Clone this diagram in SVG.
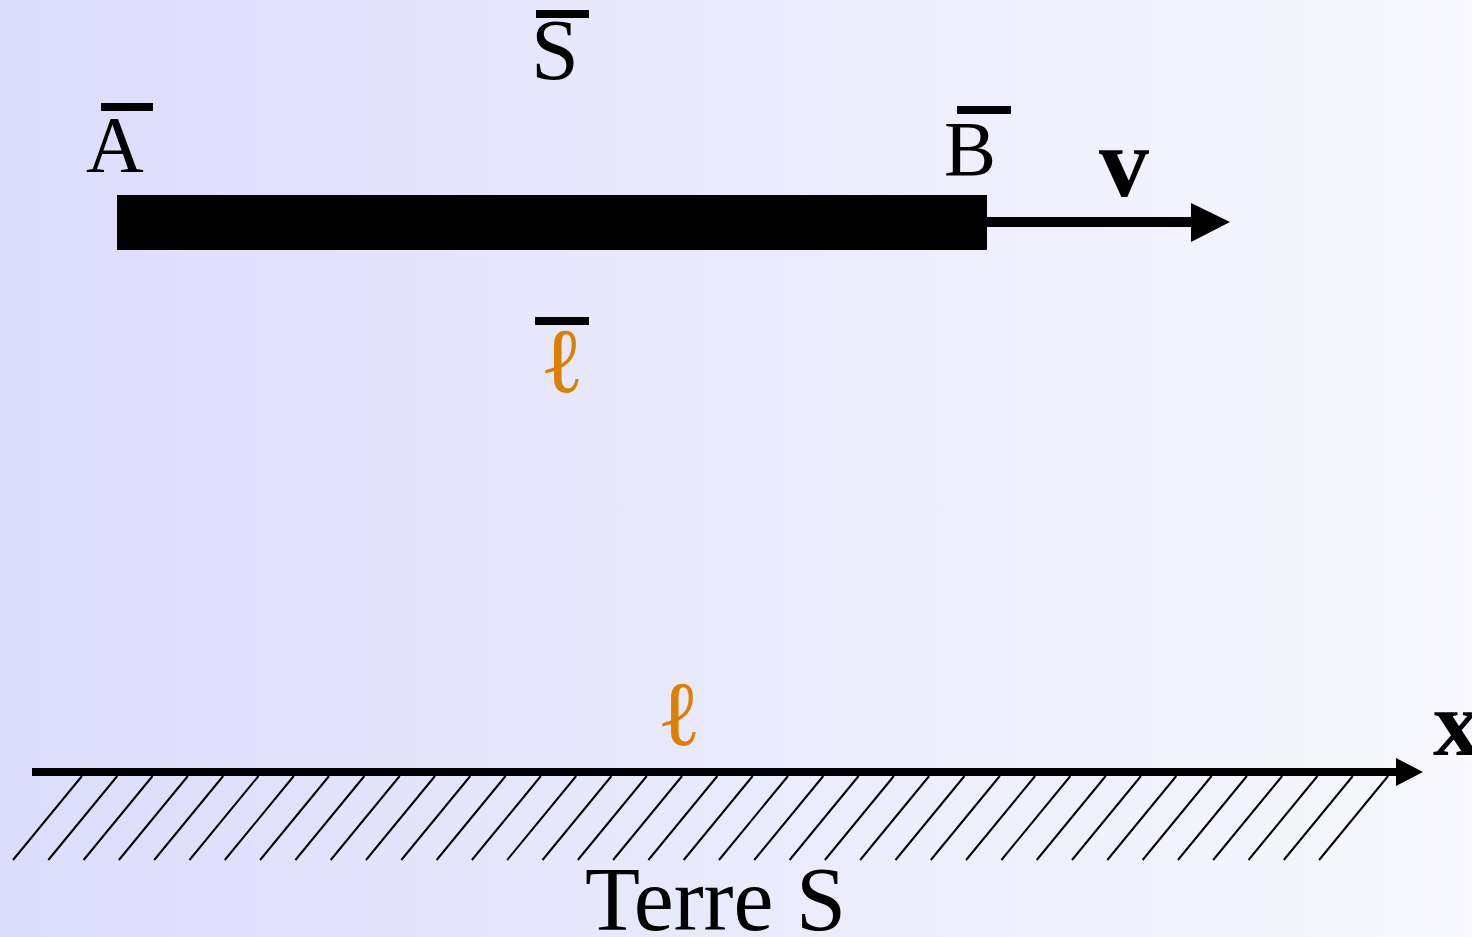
<svg xmlns="http://www.w3.org/2000/svg" width="1472" height="937" viewBox="0 0 1472 937">
<defs>
<linearGradient id="bg" x1="0" y1="0" x2="1" y2="0">
<stop offset="0" stop-color="#dcdcfc"/>
<stop offset="1" stop-color="#f8f8fe"/>
</linearGradient>
<pattern id="hatch" x="13" y="776" width="35.3" height="84" patternUnits="userSpaceOnUse">
<line x1="0" y1="84" x2="69" y2="0" stroke="#000" stroke-width="2"/>
<line x1="35.3" y1="84" x2="104.3" y2="0" stroke="#000" stroke-width="2"/>
<line x1="-35.3" y1="84" x2="33.7" y2="0" stroke="#000" stroke-width="2"/>
</pattern>
</defs>
<style>
.t{font-family:"Liberation Serif","Times New Roman",serif;fill:#000}
.b{font-weight:bold}
.ell{font-family:"Liberation Serif","DejaVu Serif",serif;fill:#db8000}
.bar{fill:#000}
</style>
<rect x="0" y="0" width="1472" height="937" fill="url(#bg)"/>
<g id="rod">
<rect x="117" y="195" width="870" height="55" fill="#000"/>
</g>
<g id="ground">
<g id="hatching" stroke="#000" stroke-width="2">
<path d="M13,860L82,776M48.3,860L117.3,776M83.6,860L152.6,776M118.9,860L187.9,776M154.2,860L223.2,776M189.5,860L258.5,776M224.8,860L293.8,776M260.1,860L329.1,776M295.4,860L364.4,776M330.7,860L399.7,776M366,860L435,776M401.3,860L470.3,776M436.6,860L505.6,776M471.9,860L540.9,776M507.2,860L576.2,776M542.5,860L611.5,776M577.8,860L646.8,776M613.1,860L682.1,776M648.4,860L717.4,776M683.7,860L752.7,776M719,860L788,776M754.3,860L823.3,776M789.6,860L858.6,776M824.9,860L893.9,776M860.2,860L929.2,776M895.5,860L964.5,776M930.8,860L999.8,776M966.1,860L1035.1,776M1001.4,860L1070.4,776M1036.7,860L1105.7,776M1072,860L1141,776M1107.3,860L1176.3,776M1142.6,860L1211.6,776M1177.9,860L1246.9,776M1213.2,860L1282.2,776M1248.5,860L1317.5,776M1283.8,860L1352.8,776M1319.1,860L1388.1,776"/>
</g>
</g>
<g id="connectors">
<line x1="986" y1="222" x2="1193" y2="222" stroke="#000" stroke-width="10"/>
<polygon points="1191,203 1230,222 1191,242" fill="#000"/>
<line x1="32" y1="772" x2="1398" y2="772" stroke="#000" stroke-width="8"/>
<polygon points="1396,758 1423,772 1396,786" fill="#000"/>
</g>
<g id="label-S-bar">
<text class="t" x="531" y="79" font-size="86">S</text>
<rect class="bar" x="536" y="10" width="53" height="8"/>
</g>
<g id="label-A-bar">
<text class="t" x="86" y="172" font-size="80">A</text>
<rect class="bar" x="101" y="103" width="52" height="8"/>
</g>
<g id="label-B-bar">
<text class="t" x="944" y="175" font-size="78">B</text>
<rect class="bar" x="957" y="106" width="54" height="8"/>
</g>
<g id="label-v">
<text class="t b" x="1099" y="196" font-size="100">v</text>
</g>
<g id="label-l-bar">
<text class="ell" x="540" y="392" font-size="92">ℓ</text>
<rect class="bar" x="535" y="317" width="54" height="8"/>
</g>
<g id="label-l">
<text class="ell" x="657" y="745" font-size="92">ℓ</text>
</g>
<g id="label-x">
<text class="t b" x="1433" y="755" font-size="94">x</text>
</g>
<g id="label-terre">
<text class="t" x="585" y="930" font-size="90">Terre S</text>
</g>
</svg>
